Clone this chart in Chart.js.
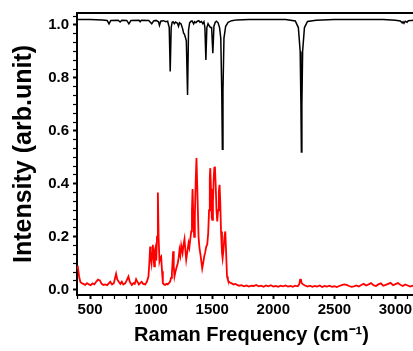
<!DOCTYPE html>
<html>
<head>
<meta charset="utf-8">
<script src="https://cdn.jsdelivr.net/npm/chart.js@4"></script>
<style>
html,body{margin:0;padding:0;background:#fff;overflow:hidden;width:413px;height:351px;}
#wrap{width:440px;height:351px;}
</style>
</head>
<body>
<div id="wrap"><canvas id="c" width="440" height="351"></canvas></div>
<script>
// Calculated spectrum (black, offset near 1.0)
const calcFreq = [400,500,600,640,655,670,730,746,760,800,818,835,900,910,920,980,1005,1020,1040,1060,1068,1078,1100,1120,1135,1148,1156,1164,1172,1180,1190,1200,1215,1224,1232,1245,1258,1265,1272,1279,1288,1298,1306,1315,1325,1335,1348,1356,1366,1378,1390,1400,1412,1422,1432,1440,1448,1456,1466,1478,1486,1495,1505,1514,1525,1535,1548,1560,1570,1578,1583,1588,1596,1610,1630,1660,1700,1800,1900,2000,2100,2180,2205,2220,2226,2230,2234,2240,2255,2280,2350,2500,2700,2900,3000,3040,3055,3062,3070,3080,3095,3105,3150,3250];
const calcIntensity = [1.02,1.02,1.019,1.017,1.004,1.017,1.018,1.011,1.018,1.017,1.004,1.017,1.018,1.012,1.018,1.017,1.004,1.015,1.017,1.012,0.998,1.014,1.016,1.012,1.014,0.99,0.824,0.99,1.01,1.012,1.005,1.011,1.006,0.995,1.008,1.004,0.985,0.97,0.965,0.955,0.94,0.735,0.98,1.008,1.013,1.015,1.004,1.012,1.008,1.014,1.016,1.01,1.013,1.005,1.012,0.99,0.868,0.99,1.005,0.995,0.99,0.99,0.893,0.995,1.01,1.014,1.008,0.99,0.95,0.75,0.53,0.75,0.95,0.995,1.01,1.016,1.019,1.02,1.02,1.02,1.02,1.015,0.99,0.9,0.7,0.52,0.7,0.9,0.99,1.013,1.018,1.02,1.02,1.02,1.018,1.015,1.008,1.012,1.006,1.014,1.01,1.016,1.018,1.02];

// Experimental spectrum (red)
const expFreq = [395,400,410,420,430,445,460,475,490,505,520,535,550,565,580,595,610,625,640,655,665,680,695,705,713,722,735,748,760,772,787,800,814,825,842,855,866,877,890,900,910,922,935,951,965,978,985,992,997,1003,1009,1014,1020,1025,1031,1036,1042,1048,1055,1061,1068,1075,1082,1089,1096,1105,1115,1125,1135,1145,1155,1163,1170,1176,1180,1185,1191,1200,1210,1218,1225,1232,1239,1246,1252,1257,1265,1273,1280,1287,1295,1306,1313,1320,1328,1334,1339,1345,1352,1358,1364,1371,1378,1388,1395,1402,1410,1418,1426,1434,1442,1451,1459,1467,1474,1480,1484,1490,1496,1500,1506,1512,1517,1522,1528,1535,1541,1548,1554,1560,1566,1572,1580,1585,1592,1600,1607,1613,1621,1628,1634,1645,1660,1675,1690,1705,1720,1740,1760,1780,1800,1820,1840,1860,1880,1900,1920,1940,1960,1980,2000,2020,2040,2060,2080,2100,2120,2140,2160,2180,2200,2212,2220,2226,2232,2245,2260,2280,2300,2320,2340,2360,2380,2400,2420,2440,2460,2480,2500,2520,2540,2560,2580,2600,2620,2640,2660,2680,2700,2720,2740,2760,2780,2800,2820,2840,2860,2880,2900,2920,2940,2960,2980,3000,3020,3040,3060,3080,3100,3120,3140,3160,3200,3250];
const expIntensity = [0.09,0.085,0.05,0.03,0.025,0.022,0.018,0.025,0.02,0.017,0.024,0.02,0.03,0.038,0.035,0.022,0.018,0.02,0.017,0.025,0.03,0.02,0.025,0.045,0.06,0.04,0.03,0.022,0.03,0.02,0.024,0.035,0.05,0.03,0.018,0.025,0.022,0.04,0.028,0.02,0.025,0.03,0.022,0.02,0.03,0.05,0.1,0.163,0.12,0.1,0.14,0.17,0.12,0.088,0.15,0.16,0.11,0.2,0.367,0.2,0.107,0.12,0.125,0.07,0.025,0.02,0.018,0.022,0.02,0.025,0.03,0.045,0.063,0.11,0.145,0.09,0.05,0.07,0.088,0.1,0.12,0.15,0.13,0.166,0.15,0.138,0.17,0.191,0.15,0.113,0.14,0.176,0.16,0.189,0.22,0.3,0.38,0.28,0.2,0.28,0.4,0.497,0.38,0.2,0.16,0.138,0.11,0.08,0.1,0.125,0.14,0.163,0.17,0.213,0.3,0.42,0.459,0.38,0.27,0.264,0.33,0.42,0.46,0.465,0.4,0.3,0.258,0.3,0.37,0.396,0.33,0.22,0.14,0.119,0.15,0.2,0.22,0.15,0.05,0.038,0.031,0.027,0.024,0.02,0.022,0.018,0.015,0.017,0.013,0.016,0.012,0.015,0.014,0.018,0.013,0.015,0.011,0.016,0.013,0.017,0.012,0.014,0.011,0.015,0.013,0.016,0.012,0.014,0.011,0.015,0.013,0.02,0.038,0.04,0.025,0.02,0.016,0.012,0.015,0.011,0.014,0.012,0.016,0.01,0.014,0.012,0.015,0.011,0.013,0.01,0.014,0.017,0.02,0.018,0.014,0.011,0.013,0.016,0.012,0.018,0.022,0.016,0.02,0.025,0.017,0.014,0.02,0.024,0.015,0.018,0.022,0.026,0.017,0.021,0.025,0.019,0.014,0.02,0.016,0.012,0.015,0.01,0.012,0.011];

// Axis ticks
const xTickLabels = [500,1000,1500,2000,2500,3000];
const xMinorStep = 100;
const yTickLabels = [0.0,0.2,0.4,0.6,0.8,1.0];
const yMinorDiv = 6;

const X_MIN = 393, X_MAX = 3250, Y_MIN = -0.02, Y_MAX = 1.045;
const FONT = "'Liberation Sans', Arial, sans-serif";

function pts(xs, ys){ return xs.map((x,i)=>({x:x, y:ys[i]})); }

const chart = new Chart(document.getElementById('c'), {
  type: 'line',
  data: {
    datasets: [
      {label:'calc', data: pts(calcFreq, calcIntensity), borderColor:'#000000', borderWidth:1.5, pointRadius:0, tension:0, fill:false},
      {label:'exp', data: pts(expFreq, expIntensity), borderColor:'#ff0000', borderWidth:1.8, pointRadius:0, tension:0, fill:false}
    ]
  },
  options: {
    responsive:false,
    animation:false,
    devicePixelRatio:1,
    layout:{padding:{left:0,right:14,top:0,bottom:0}},
    plugins:{legend:{display:false}, tooltip:{enabled:false}},
    scales:{
      x:{
        type:'linear', position:'bottom', min:X_MIN, max:X_MAX,
        afterBuildTicks:(s)=>{
          const t=[]; for(let v=400; v<=3200; v+=xMinorStep) t.push({value:v}); s.ticks=t;
        },
        afterFit:(s)=>{ s.height = 56; },
        ticks:{
          autoSkip:false, maxRotation:0, padding:2, color:'#000',
          font:{family:FONT, size:15, weight:'bold'},
          callback:(v)=> xTickLabels.includes(v) ? String(v) : ''
        },
        grid:{display:true, drawOnChartArea:false, drawTicks:true, tickLength:4, color:'#000', tickColor:'#000',
              tickWidth:(ctx)=> (ctx.tick && xTickLabels.includes(ctx.tick.value)) ? 2 : 1.2},
        border:{display:true, color:'#000', width:2},
        title:{display:true, text:'Raman Frequency (cm\u207B\u00B9)', color:'#000',
               font:{family:FONT, size:20, weight:'bold'}, padding:{top:0,bottom:4}}
      },
      x2:{
        type:'linear', position:'top', min:X_MIN, max:X_MAX,
        afterFit:(s)=>{ s.height = 13; },
        ticks:{display:false},
        grid:{display:false},
        border:{display:true, color:'#000', width:2}
      },
      y:{
        type:'linear', position:'left', min:Y_MIN, max:Y_MAX,
        afterBuildTicks:(s)=>{
          const t=[]; const step = (yTickLabels[1]-yTickLabels[0])/yMinorDiv;
          for(let i=0; i*step <= 1.04; i++) t.push({value: Math.round(i*step*10000)/10000}); s.ticks=t;
        },
        afterFit:(s)=>{ s.width = 77; },
        ticks:{
          autoSkip:false, padding:4, color:'#000',
          font:{family:FONT, size:15, weight:'bold'},
          callback:(v)=>{ const m = yTickLabels.find(l=>Math.abs(l-v)<1e-6); return m===undefined ? '' : m.toFixed(1); }
        },
        grid:{display:true, drawOnChartArea:false, drawTicks:true, tickLength:4, color:'#000', tickColor:'#000',
              tickWidth:(ctx)=> (ctx.tick && yTickLabels.some(l=>Math.abs(l-ctx.tick.value)<1e-6)) ? 2 : 1.2},
        border:{display:true, color:'#000', width:2},
        title:{display:true, text:'Intensity (arb.unit)', color:'#000',
               font:{family:FONT, size:25, weight:'bold'}, padding:{top:9,bottom:0}}
      }
    }
  }
});
</script>
</body>
</html>
